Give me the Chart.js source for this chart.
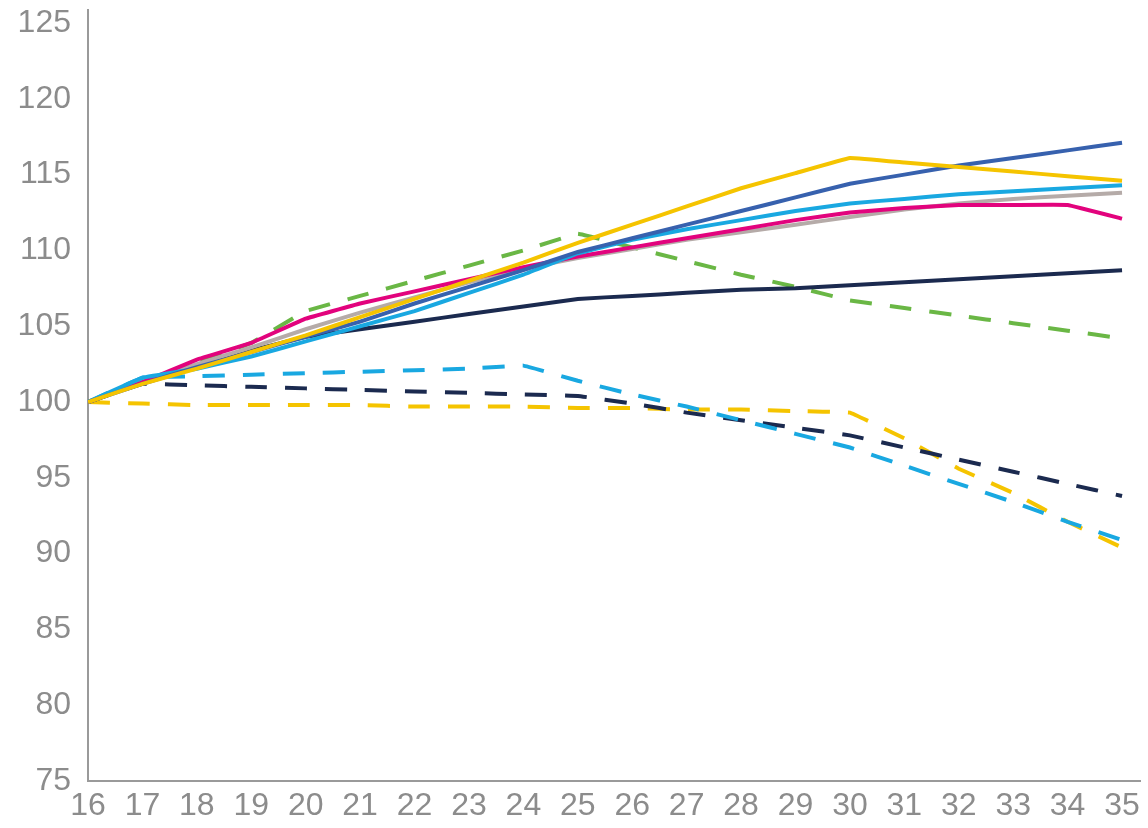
<!DOCTYPE html>
<html>
<head>
<meta charset="utf-8">
<script src="https://cdn.jsdelivr.net/npm/chart.js@4"></script>
<style>
  html, body { margin: 0; padding: 0; background: #fff; }
  #wrap { width: 1148px; height: 828px; }
</style>
</head>
<body>
<div id="wrap"><canvas id="chart"></canvas></div>
<script>
const years = [16, 17, 18, 19, 20, 21, 22, 23, 24, 25, 26, 27, 28, 29, 30, 31, 32, 33, 34, 35];
const yTicks = [75, 80, 85, 90, 95, 100, 105, 110, 115, 120, 125];

// solid lines
const yellowSolid = [100, 101.2, 102.2, 103.3, 104.4, 105.6, 106.8, 108.0, 109.2, 110.5, 111.7, 112.9, 114.1, 115.1, 116.1, 115.8, 115.5, 115.2, 114.9, 114.6];
const blueSolid = [100, 101.2, 102.3, 103.3, 104.3, 105.3, 106.5, 107.6, 108.7, 109.9, 110.8, 111.7, 112.6, 113.5, 114.4, 115.0, 115.6, 116.1, 116.6, 117.1];
const cyanSolid = [100, 101.6, 102.2, 103.0, 104.0, 105.0, 106.0, 107.2, 108.4, 109.8, 110.7, 111.4, 112.0, 112.6, 113.1, 113.4, 113.7, 113.9, 114.1, 114.3];
const magentaSolid = [100, 101.3, 102.8, 103.9, 105.5, 106.5, 107.3, 108.1, 108.9, 109.6, 110.2, 110.8, 111.4, 112.0, 112.5, 112.8, 113.0, 113.0, 113.0, 112.1];
const greySolid = [100, 101.3, 102.5, 103.6, 104.8, 105.9, 106.9, 107.9, 108.8, 109.5, 110.1, 110.7, 111.2, 111.7, 112.2, 112.7, 113.1, 113.4, 113.6, 113.8];
const navySolid = [100, 101.3, 102.4, 103.4, 104.3, 104.8, 105.3, 105.8, 106.3, 106.8, 107.0, 107.2, 107.4, 107.5, 107.7, 107.9, 108.1, 108.3, 108.5, 108.7];

// dashed lines
const greenDashed = [100, 101.3, 102.6, 103.9, 106.0, 107.0, 108.0, 109.0, 110.0, 111.1, 110.2, 109.3, 108.4, 107.6, 106.7, 106.2, 105.7, 105.2, 104.7, 104.2];
const cyanDashed = [100, 101.6, 101.7, 101.8, 101.9, 102.0, 102.1, 102.2, 102.4, 101.4, 100.5, 99.7, 98.8, 97.9, 97.0, 95.8, 94.6, 93.4, 92.1, 90.9];
const navyDashed = [100, 101.2, 101.1, 101.0, 100.9, 100.8, 100.7, 100.6, 100.5, 100.4, 99.9, 99.3, 98.8, 98.3, 97.8, 97.0, 96.2, 95.4, 94.6, 93.8];
const yellowDashed = [100, 99.9, 99.8, 99.8, 99.8, 99.8, 99.7, 99.7, 99.7, 99.6, 99.6, 99.5, 99.5, 99.4, 99.3, 97.6, 95.6, 94.0, 92.1, 90.4];

const pts = vals => vals.map((v, i) => ({ x: years[i], y: v }));
const DASH = [22, 18];

function line(vals, color, dashed) {
  return {
    data: pts(vals),
    borderColor: color,
    backgroundColor: color,
    borderWidth: 4,
    borderDash: dashed ? DASH : [],
    pointRadius: 0,
    fill: false,
    tension: 0.05
  };
}

const ctx = document.getElementById('chart').getContext('2d');
new Chart(ctx, {
  type: 'line',
  data: {
    datasets: [
      line(yellowSolid, '#f5c400', false),
      line(blueSolid, '#3761ae', false),
      line(cyanSolid, '#19a8e1', false),
      line(magentaSolid, '#e2037d', false),
      line(greySolid, '#b5aba8', false),
      line(navySolid, '#1b2a4f', false),
      line(greenDashed, '#6ab745', true),
      line(cyanDashed, '#19a8e1', true),
      line(navyDashed, '#1b2a4f', true),
      line(yellowDashed, '#f5c400', true)
    ]
  },
  options: {
    responsive: true,
    maintainAspectRatio: false,
    animation: false,
    layout: { padding: { top: 10, right: 8, left: 0, bottom: 0 } },
    plugins: {
      legend: { display: false },
      tooltip: { enabled: false }
    },
    scales: {
      x: {
        type: 'linear',
        min: 16,
        max: 35.33,
        grid: { display: false, drawTicks: false },
        border: { display: true, color: '#9a9a9a', width: 2 },
        afterBuildTicks: s => { s.ticks = years.map(v => ({ value: v })); },
        afterFit: s => { s.height = 47; s.paddingLeft = 0; },
        ticks: {
          padding: 6,
          color: '#8c8c8c',
          font: { family: 'Liberation Sans', size: 32 },
          maxRotation: 0,
          autoSkip: false
        }
      },
      y: {
        min: 75,
        max: 125.86,
        grid: { display: false, drawTicks: false },
        border: { display: true, color: '#9a9a9a', width: 2 },
        afterBuildTicks: s => { s.ticks = yTicks.map(v => ({ value: v })); },
        afterFit: s => { s.width = 88; s.paddingTop = 0; s.paddingBottom = 0; },
        ticks: {
          padding: 17,
          color: '#8c8c8c',
          font: { family: 'Liberation Sans', size: 32 }
        }
      }
    }
  }
});
</script>
</body>
</html>
